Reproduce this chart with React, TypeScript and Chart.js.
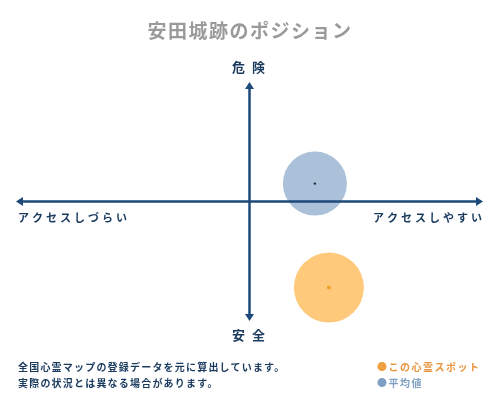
import { useEffect, useRef } from 'react';
import Chart from 'chart.js/auto';

const spotLabel = 'この心霊スポット';
const averageLabel = '平均値';
// [x: アクセスしづらい(-) .. アクセスしやすい(+), y: 安全(-) .. 危険(+)]
const spotPoint = [{ x: 3.4, y: -7.2 }];
const averagePoint = [{ x: 2.8, y: 1.5 }];
const axisRange = [-10, 10];
const axisLabels = { top: '危 険', bottom: '安 全', left: 'アクセスしづらい', right: 'アクセスしやすい' };
const notes = ['全国心霊マップの登録データを元に算出しています。', '実際の状況とは異なる場合があります。'];

const FONT = '"Noto Sans CJK JP", "Noto Sans", sans-serif';
const NAVY = '#1d4a7a';

// cross-shaped axes with arrowheads, drawn over the bubbles like the original
const crossAxes = {
  id: 'crossAxes',
  afterDatasetsDraw(chart: Chart) {
    const { ctx, chartArea, scales } = chart;
    const cx = scales.x.getPixelForValue(0);
    const cy = scales.y.getPixelForValue(0);
    const head = 7;
    const half = 4.5;
    ctx.save();
    ctx.strokeStyle = NAVY;
    ctx.fillStyle = NAVY;
    ctx.lineWidth = 2.5;
    ctx.beginPath();
    ctx.moveTo(chartArea.left + head - 1, cy);
    ctx.lineTo(chartArea.right - head + 1, cy);
    ctx.moveTo(cx, chartArea.top + head - 1);
    ctx.lineTo(cx, chartArea.bottom - head + 1);
    ctx.stroke();

    const tri = (pts: number[][]) => {
      ctx.beginPath();
      ctx.moveTo(pts[0][0], pts[0][1]);
      ctx.lineTo(pts[1][0], pts[1][1]);
      ctx.lineTo(pts[2][0], pts[2][1]);
      ctx.closePath();
      ctx.fill();
    };
    tri([[chartArea.left, cy], [chartArea.left + head, cy - half], [chartArea.left + head, cy + half]]);
    tri([[chartArea.right, cy], [chartArea.right - head, cy - half], [chartArea.right - head, cy + half]]);
    tri([[cx, chartArea.top], [cx - half, chartArea.top + head], [cx + half, chartArea.top + head]]);
    tri([[cx, chartArea.bottom], [cx - half, chartArea.bottom - head], [cx + half, chartArea.bottom - head]]);

    ctx.fillStyle = '#1a3a5e';
    ctx.textBaseline = 'middle';
    ctx.font = `bold 13px ${FONT}`;
    (ctx as any).letterSpacing = '2px';
    ctx.textAlign = 'center';
    ctx.fillText(axisLabels.top, cx, chartArea.top - 15);
    ctx.fillText(axisLabels.bottom, cx, chartArea.bottom + 14);
    ctx.font = `bold 11px ${FONT}`;
    (ctx as any).letterSpacing = '3px';
    ctx.textAlign = 'left';
    ctx.fillText(axisLabels.left, chartArea.left + 2, cy + 16);
    ctx.textAlign = 'right';
    ctx.fillText(axisLabels.right, chartArea.right + 2, cy + 16);
    ctx.restore();
  },
};

export default function App() {
  const canvasRef = useRef<HTMLCanvasElement>(null);

  useEffect(() => {
    if (!canvasRef.current) return;
    const chart = new Chart(canvasRef.current, {
      type: 'bubble',
      data: {
        datasets: [
          {
            label: averageLabel + '-center',
            data: averagePoint,
            backgroundColor: '#1a2a3a',
            borderWidth: 0,
            radius: 1.2,
          },
          {
            label: spotLabel + '-center',
            data: spotPoint,
            backgroundColor: '#f0a030',
            borderWidth: 0,
            radius: 2,
          },
          {
            label: averageLabel,
            data: averagePoint,
            backgroundColor: 'rgba(150,178,208,0.8)',
            borderWidth: 0,
            radius: 32,
          },
          {
            label: spotLabel,
            data: spotPoint,
            backgroundColor: 'rgba(255,192,100,0.85)',
            borderWidth: 0,
            radius: 35,
          },
        ],
      },
      options: {
        responsive: false,
        animation: false,
        events: [],
        clip: false,
        layout: { autoPadding: false, padding: { left: 16, right: 17, top: 82, bottom: 79 } },
        scales: {
          x: { display: false, min: axisRange[0], max: axisRange[1] },
          y: { display: false, min: axisRange[0], max: axisRange[1] },
        },
        plugins: {
          legend: { display: false },
          tooltip: { enabled: false },
        },
      } as any,
      plugins: [crossAxes],
    });
    return () => chart.destroy();
  }, []);

  return (
    <div style={{ position: 'absolute', left: 0, top: 0, width: 500, height: 400, background: '#fff', fontFamily: FONT }}>
      <canvas ref={canvasRef} width={500} height={400} style={{ position: 'absolute', left: 0, top: 0 }} />
      <div
        style={{
          position: 'absolute', top: 16, left: 0, width: 500, textAlign: 'center',
          fontSize: 19, fontWeight: 'bold', color: '#9a9a9a', letterSpacing: 1.5, lineHeight: '28px',
        }}
      >
        安田城跡のポジション
      </div>
      <div
        style={{
          position: 'absolute', left: 18, top: 359, fontSize: 10, fontWeight: 'bold',
          color: '#1a3a5e', letterSpacing: 1.2, lineHeight: '16px',
        }}
      >
        {notes.map((n) => (
          <div key={n}>{n}</div>
        ))}
      </div>
      <div style={{ position: 'absolute', left: 377, top: 359, fontSize: 10, fontWeight: 'bold', letterSpacing: 1.5, lineHeight: '16px' }}>
        <div style={{ color: '#e8953e' }}>
          <span style={{ color: '#f0a040' }}>●</span>{spotLabel}
        </div>
        <div style={{ color: '#7fa0c2' }}>
          <span style={{ color: '#7fa0c2' }}>●</span>{averageLabel}
        </div>
      </div>
    </div>
  );
}
